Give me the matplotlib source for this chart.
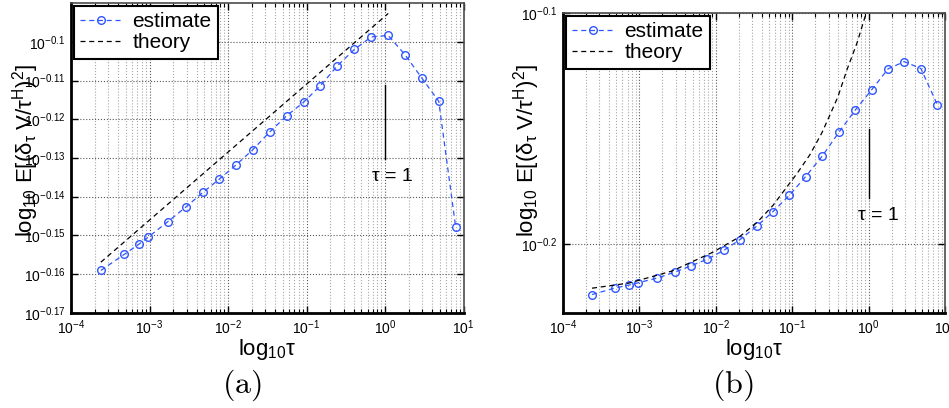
import matplotlib
matplotlib.use("Agg")
import matplotlib.pyplot as plt
from matplotlib.ticker import FixedLocator, FixedFormatter, LogLocator, NullLocator

plt.rcParams["font.family"] = ["Liberation Sans", "DejaVu Sans"]
plt.rcParams["mathtext.fontset"] = "custom"
plt.rcParams["mathtext.rm"] = "Liberation Sans"
plt.rcParams["mathtext.it"] = "Liberation Sans:italic"
plt.rcParams["mathtext.bf"] = "Liberation Sans:bold"

# shared lag values (tau)
tau = [2.40e-4, 4.79e-4, 7.33e-4, 9.66e-4, 1.70e-3, 2.92e-3, 4.79e-3, 7.71e-3,
       0.0127, 0.0206, 0.0343, 0.0562, 0.0918, 0.150, 0.248, 0.407, 0.668,
       1.10, 1.80, 2.93, 4.84, 7.94]

# panel (a)
est_a = [0.6934, 0.7001, 0.7043, 0.7073, 0.7137, 0.7201, 0.7263, 0.7320,
         0.7383, 0.7449, 0.7530, 0.7602, 0.7663, 0.7738, 0.7831, 0.7907,
         0.7966, 0.7973, 0.7882, 0.7775, 0.7667, 0.7116]
theory_tau_a = [2.40e-4, 1.10]
theory_a = [0.6968, 0.8078]

# panel (b)
est_b = [0.5998, 0.6037, 0.6055, 0.6069, 0.6097, 0.6134, 0.6173, 0.6213,
         0.6268, 0.6335, 0.6421, 0.6516, 0.6622, 0.6747, 0.6887, 0.7051,
         0.7210, 0.7358, 0.7513, 0.7567, 0.7515, 0.7248]
theory_tau_b = [2.40e-4, 7.31e-4, 2.67e-3, 9.18e-3, 0.0201, 0.0346, 0.0561,
                0.0805, 0.118, 0.171, 0.245, 0.313, 0.397, 0.521, 0.705,
                0.897, 0.940]
theory_b = [0.6036, 0.6067, 0.6140, 0.6257, 0.6351, 0.6445, 0.6556, 0.6661,
            0.6774, 0.6897, 0.7049, 0.7177, 0.7307, 0.7506, 0.7709, 0.7912,
            0.7950]

xticks = [1e-4, 1e-3, 1e-2, 1e-1, 1e0, 1e1]
xtick_labels = ["$10^{-4}$", "$10^{-3}$", "$10^{-2}$", "$10^{-1}$", "$10^{0}$", "$10^{1}$"]

ytick_exp_a = ["-0.17", "-0.16", "-0.15", "-0.14", "-0.13", "-0.12", "-0.11", "-0.1"]
ytick_exp_b = ["-0.2", "-0.1"]

ylim_a = (10 ** -0.17, 10 ** -0.09)
ylim_b = (10 ** -0.23, 10 ** -0.1)

BLUE = "#2f55ff"
YLABEL = r"log$_{10}$ E[(δ$_{\mathrm{τ}}$ V/τ$^{\mathrm{H}}$)$^{2}$]"
XLABEL = r"log$_{10}$τ"


def style_axis(ax, yexps, ylim):
    ax.set_xscale("log")
    ax.set_yscale("log")
    ax.set_xlim(1e-4, 1e1)
    ax.set_ylim(*ylim)
    ax.xaxis.set_major_locator(FixedLocator(xticks))
    ax.xaxis.set_major_formatter(FixedFormatter(xtick_labels))
    ax.xaxis.set_minor_locator(LogLocator(base=10, subs=range(2, 10), numticks=20))
    yvals = [10 ** float(e) for e in yexps]
    ax.yaxis.set_major_locator(FixedLocator(yvals))
    ax.yaxis.set_major_formatter(FixedFormatter(["$10^{%s}$" % e for e in yexps]))
    ax.yaxis.set_minor_locator(NullLocator())
    ax.tick_params(which="both", direction="in", top=True, right=True, labelsize=10, pad=4)
    ax.tick_params(which="major", length=5, width=1)
    ax.tick_params(which="minor", length=3, width=0.8)
    ax.grid(True, which="major", ls=":", color="0.35", lw=0.8)
    ax.grid(True, which="minor", axis="x", ls=":", color="0.65", lw=0.8)
    for side in ("left", "bottom"):
        ax.spines[side].set_linewidth(2.0)
    for side in ("top", "right"):
        ax.spines[side].set_linewidth(1.2)
        ax.spines[side].set_color("0.3")
    ax.set_axisbelow(True)


def draw_panel(ax, est, th_tau, th_val):
    ax.plot(tau, est, color=BLUE, ls="--", dashes=(4, 3), lw=0.9, marker="o",
            ms=5.5, mfc="none", mec=BLUE, mew=1.0, label="estimate")
    ax.plot(th_tau, th_val, color="black", ls="--", dashes=(4, 3), lw=0.9, label="theory")
    leg = ax.legend(loc="upper left", fontsize=15, handlelength=2.0, handletextpad=0.5,
                    labelspacing=0.1, borderpad=0.3, borderaxespad=0.15,
                    fancybox=False, framealpha=1, edgecolor="black")
    leg.get_frame().set_linewidth(1.5)


fig = plt.figure(figsize=(9.49, 4.08), dpi=100)
ax_a = fig.add_axes([71 / 949, 1 - 313 / 408, 392.5 / 949, 310 / 408])
ax_b = fig.add_axes([563 / 949, 1 - 313 / 408, 382 / 949, 300 / 408])

style_axis(ax_a, ytick_exp_a, ylim_a)
style_axis(ax_b, ytick_exp_b, ylim_b)
draw_panel(ax_a, est_a, theory_tau_a, theory_a)
draw_panel(ax_b, est_b, theory_tau_b, theory_b)

# tau = 1 markers
ax_a.plot([1.0, 1.0], [0.7744, 0.7407], color="black", lw=1.0)
ax_a.text(0.68, 0.733, "τ = 1", fontsize=14, va="center", ha="left")
ax_b.plot([1.0, 1.0], [0.7076, 0.6607], color="black", lw=1.0)
ax_b.text(0.726, 0.649, "τ = 1", fontsize=14, va="center", ha="left")

for ax in (ax_a, ax_b):
    ax.set_xlabel(XLABEL, fontsize=16, labelpad=0)

fig.text(26 / 949, 1 - 150 / 408, YLABEL, rotation=90, fontsize=16, ha="center", va="center")
fig.text(527 / 949, 1 - 150 / 408, YLABEL, rotation=90, fontsize=16, ha="center", va="center")

fig.text(242 / 949, 1 - 385 / 408, r"$\mathrm{(a)}$", fontsize=23, ha="center", va="center",
         math_fontfamily="cm")
fig.text(733 / 949, 1 - 385 / 408, r"$\mathrm{(b)}$", fontsize=23, ha="center", va="center",
         math_fontfamily="cm")

fig.savefig("out.png", dpi=100)
